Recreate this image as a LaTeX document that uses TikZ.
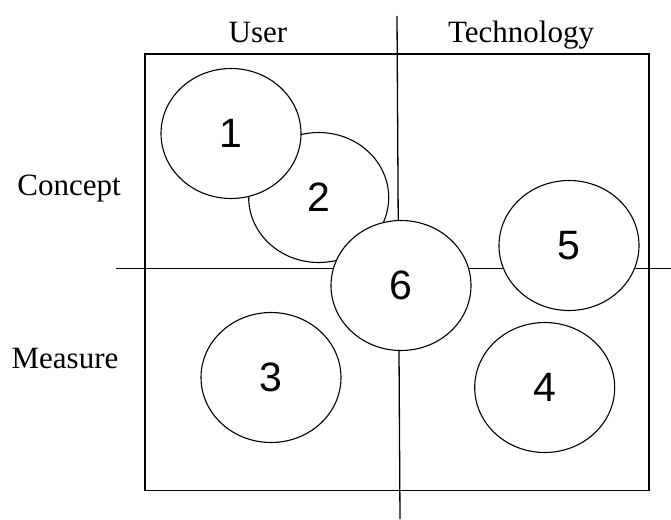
\documentclass[tikz,border=0pt]{standalone}
\usepackage{fontspec}
\setmainfont{Liberation Serif}
\newfontfamily\numfont{Liberation Sans}
\usetikzlibrary{shapes.geometric}
\begin{document}
\begin{tikzpicture}[x=1pt,y=-1pt,
  frame/.style={draw=black,line width=1.3pt},
  axis/.style={draw=black,line width=1.3pt},
  blob/.style={ellipse,draw=black,fill=white,line width=1.1pt,minimum width=140pt,minimum height=130pt,inner sep=0pt,font=\numfont\fontsize{41}{41}\selectfont},
  lab/.style={anchor=base,inner sep=0pt,font=\fontsize{31}{31}\selectfont}]
\useasboundingbox (0,0) rectangle (671,519);
% frame
\draw[frame] (145,54) rectangle (649,490.5);
% axes
\coordinate (vtop) at (397,16);
\coordinate (vbot) at (400,519);
\coordinate (hl) at (116,268.5);
\coordinate (hr) at (671,268.5);
\draw[axis] (vtop) -- (vbot);
\draw[axis] (hl) -- (hr);
% labels
\node[lab] (user) at (258,42) {User};
\node[lab] (tech) at (521,42) {Technology};
\node[lab] (concept) at (69,195) {Concept};
\node[lab] (measure) at (65,368) {Measure};
% ellipses
\node[blob] (e2) at (318.7,197.5) {2};
\node[blob] (e1) at (231,133.5) {1};
\node[blob] (e6) at (401,285.5) {6};
\node[blob] (e5) at (569,245.5) {5};
\node[blob] (e3) at (271,377.5) {3};
\node[blob] (e4) at (544.7,387.5) {4};
\end{tikzpicture}
\end{document}
